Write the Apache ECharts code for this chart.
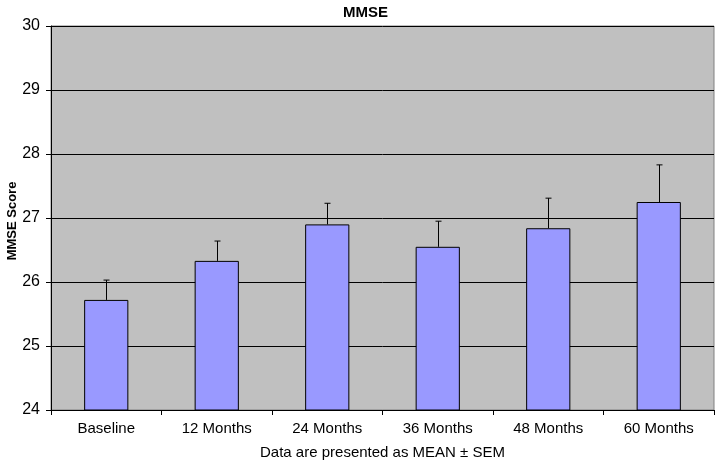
<!DOCTYPE html>
<html>
<head>
<meta charset="utf-8">
<script src="https://cdn.jsdelivr.net/npm/echarts@6/dist/echarts.min.js"></script>
<style>
  html, body { margin: 0; padding: 0; background: #fff; }
  #chart { width: 720px; height: 463px; }
</style>
</head>
<body>
<div id="chart"></div>
<script>
var categories = ['Baseline', '12 Months', '24 Months', '36 Months', '48 Months', '60 Months'];
var meanValues = [25.72, 26.33, 26.90, 26.55, 26.84, 27.25];
var semValues = [0.31, 0.31, 0.33, 0.40, 0.47, 0.58];
var yTicks = [24, 25, 26, 27, 28, 29, 30];

var font = 'Liberation Sans, Arial, sans-serif';

var errorData = meanValues.map(function (m, i) {
    return [i, m, m + semValues[i]];
});

var myChart = echarts.init(document.getElementById('chart'));

var option = {
    animation: false,
    backgroundColor: '#fff',
    title: {
        text: 'MMSE',
        left: 338,
        top: 0,
        textStyle: { fontFamily: font, fontSize: 15, fontWeight: 'bold', color: '#000' }
    },
    // y axis title placed by hand (axis name gets pushed left by the labels)
    graphic: [
        {
            type: 'text',
            x: 12,
            y: 221,
            rotation: Math.PI / 2,
            style: {
                text: 'MMSE Score',
                fontFamily: font,
                fontSize: 13,
                fontWeight: 'bold',
                fill: '#000',
                align: 'center',
                verticalAlign: 'middle'
            }
        }
    ],
    grid: {
        left: 51,
        right: 6,
        top: 26,
        bottom: 53,
        outerBoundsMode: 'none',
        containLabel: false,
        show: true,
        backgroundColor: '#C0C0C0',
        borderColor: '#808080',
        borderWidth: 1
    },
    xAxis: {
        type: 'category',
        data: categories,
        name: 'Data are presented as MEAN \u00b1 SEM',
        nameLocation: 'middle',
        nameGap: 35,
        nameTextStyle: { fontFamily: font, fontSize: 15, color: '#000' },
        axisLine: { lineStyle: { color: '#000', width: 1 } },
        axisTick: { show: true, length: 5, lineStyle: { color: '#000' } },
        axisLabel: { fontFamily: font, fontSize: 15, color: '#000', margin: 11 },
        splitLine: { show: false }
    },
    yAxis: {
        type: 'value',
        min: yTicks[0],
        max: yTicks[yTicks.length - 1],
        interval: 1,
        axisLine: { show: true, lineStyle: { color: '#000', width: 1 } },
        axisTick: { show: true, length: 5, lineStyle: { color: '#000' } },
        axisLabel: { fontFamily: font, fontSize: 16, color: '#000', margin: 11 },
        splitLine: { show: true, lineStyle: { color: '#000', width: 1 } }
    },
    series: [
        {
            name: 'MMSE',
            type: 'bar',
            data: meanValues,
            barWidth: '40%',
            itemStyle: {
                color: '#9999FF',
                borderColor: '#000',
                borderWidth: 1
            }
        },
        {
            name: 'SEM',
            type: 'custom',
            data: errorData,
            encode: { x: 0, y: [1, 2] },
            z: 10,
            renderItem: function (params, api) {
                var idx = api.value(0);
                var top = api.coord([idx, api.value(1)]);
                var high = api.coord([idx, api.value(2)]);
                var x = Math.round(top[0]) + 0.5;
                var style = { stroke: '#000', lineWidth: 1 };
                return {
                    type: 'group',
                    children: [
                        { type: 'line', shape: { x1: x, y1: top[1], x2: x, y2: high[1] }, style: style },
                        { type: 'line', shape: { x1: x - 3, y1: high[1], x2: x + 3, y2: high[1] }, style: style }
                    ]
                };
            }
        }
    ]
};

myChart.setOption(option);
window.onresize = myChart.resize;
</script>
</body>
</html>
